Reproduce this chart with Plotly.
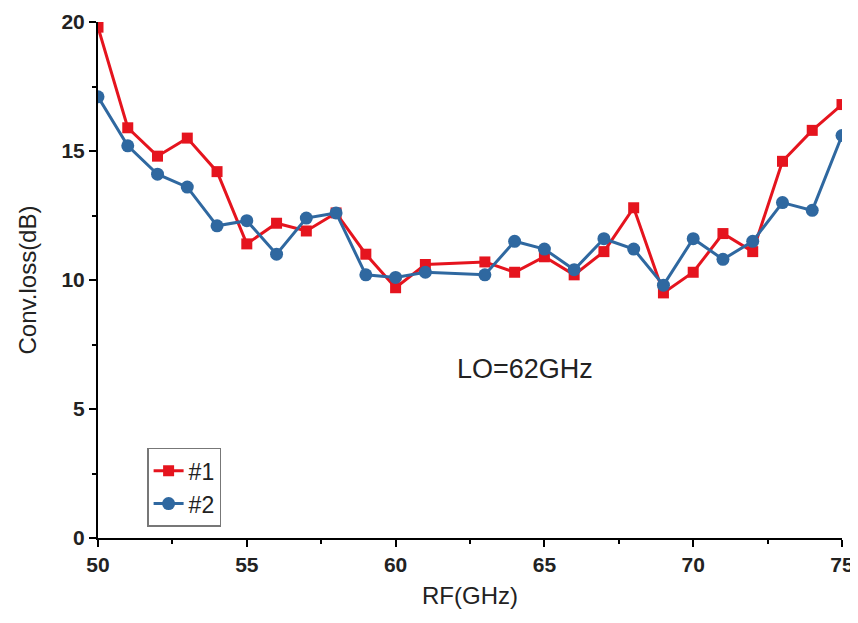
import plotly.graph_objects as go

rf = [50, 51, 52, 53, 54, 55, 56, 57, 58, 59, 60, 61, 63, 64, 65, 66, 67, 68, 69, 70, 71, 72, 73, 74, 75]
loss_1 = [19.8, 15.9, 14.8, 15.5, 14.2, 11.4, 12.2, 11.9, 12.6, 11.0, 9.7, 10.6, 10.7, 10.3, 10.9, 10.2, 11.1, 12.8, 9.5, 10.3, 11.8, 11.1, 14.6, 15.8, 16.8]
loss_2 = [17.1, 15.2, 14.1, 13.6, 12.1, 12.3, 11.0, 12.4, 12.6, 10.2, 10.1, 10.3, 10.2, 11.5, 11.2, 10.4, 11.6, 11.2, 9.8, 11.6, 10.8, 11.5, 13.0, 12.7, 15.6]
names = ["#1", "#2"]
x_ticks = [50, 55, 60, 65, 70, 75]
y_ticks = [0, 5, 10, 15, 20]

RED = "#e5141e"
BLUE = "#2f68a0"
FONT = "Liberation Sans, Arial, sans-serif"

fig = go.Figure()
fig.add_trace(go.Scatter(x=rf, y=loss_1, name=names[0], mode="lines+markers",
                         line=dict(color=RED, width=3),
                         marker=dict(symbol="square", size=11, color=RED)))
fig.add_trace(go.Scatter(x=rf, y=loss_2, name=names[1], mode="lines+markers",
                         line=dict(color=BLUE, width=3),
                         marker=dict(symbol="circle", size=13, color=BLUE)))

axis_common = dict(showline=True, linecolor="black", linewidth=2, ticks="outside",
                   ticklen=7, tickwidth=2, tickcolor="black", showgrid=False, zeroline=False,
                   automargin=False,
                   tickfont=dict(family=FONT, size=21, color="#222", weight="bold"))

fig.update_xaxes(range=[50, 75], tickvals=x_ticks,
                 title=dict(text="RF(GHz)", font=dict(family=FONT, size=24, color="#222"), standoff=12),
                 minor=dict(ticks="outside", ticklen=4, tickwidth=2, tickcolor="black", dtick=2.5, tick0=50),
                 **axis_common)
fig.update_yaxes(range=[0, 20], tickvals=y_ticks,
                 title=dict(text="Conv.loss(dB)", font=dict(family=FONT, size=24, color="#222"), standoff=18),
                 minor=dict(ticks="outside", ticklen=4, tickwidth=2, tickcolor="black", dtick=2.5, tick0=0),
                 **axis_common)

fig.add_annotation(x=64.35, y=6.55, xref="x", yref="y", text="LO=62GHz", showarrow=False,
                   font=dict(family=FONT, size=27, color="#222"))

fig.update_layout(
    width=858, height=623,
    margin=dict(l=90, r=24, t=14, b=93),
    plot_bgcolor="white", paper_bgcolor="white",
    showlegend=True,
    legend=dict(x=0.066, y=0.175, xanchor="left", yanchor="top",
                bordercolor="#777", borderwidth=1.5, bgcolor="white",
                font=dict(family=FONT, size=23, color="#222"),
                tracegroupgap=0, itemwidth=30),
)

fig.write_html("out.html")
